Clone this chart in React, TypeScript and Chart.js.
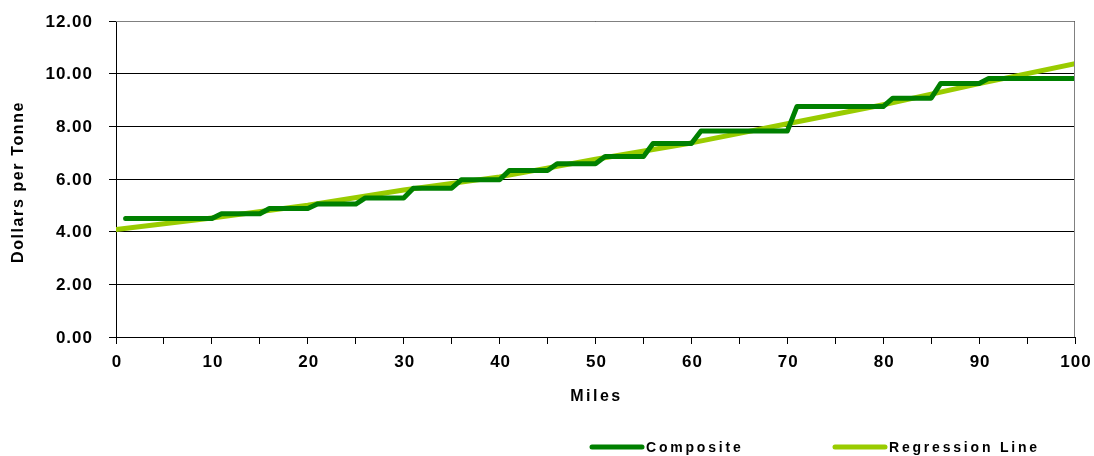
import React, { useEffect, useRef } from "react";
import { Chart, registerables } from "chart.js";

Chart.register(...registerables);

// Composite step levels: each level holds from segmentStart to segmentEnd (miles)
const segmentStart = [1, 11, 16, 21, 26, 31, 36, 41, 46, 51, 56, 61, 71, 81, 86, 91];
const segmentEnd = [10, 15, 20, 25, 30, 35, 40, 45, 50, 55, 60, 70, 80, 85, 90, 100];
const compositeLevels = [4.5, 4.68, 4.88, 5.05, 5.28, 5.65, 5.97, 6.32, 6.58, 6.85, 7.35, 7.82, 8.75, 9.07, 9.63, 9.82];

// Regression line
const regressionMiles = [0, 10, 20, 30, 40, 50, 60, 70, 80, 90, 100];
const regressionValues = [4.08, 4.52, 5.0, 5.58, 6.08, 6.75, 7.37, 8.1, 8.82, 9.62, 10.38];

const yTickValues = [0, 2, 4, 6, 8, 10, 12];
const xTickLabels = [0, 10, 20, 30, 40, 50, 60, 70, 80, 90, 100];

const yTitle = "Dollars per Tonne";
const xTitle = "Miles";
const seriesNames = ["Composite", "Regression Line"];
const colors = ["#008000", "#99CC00"];

const FONT = "'Liberation Sans', Arial, sans-serif";

export default function App() {
  const ref = useRef<HTMLCanvasElement | null>(null);
  useEffect(() => {
    const compositeData: { x: number; y: number }[] = [];
    segmentStart.forEach((s, i) => {
      compositeData.push({ x: s, y: compositeLevels[i] });
      compositeData.push({ x: segmentEnd[i], y: compositeLevels[i] });
    });
    const regressionData = regressionMiles.map((m, i) => ({ x: m, y: regressionValues[i] }));

    const decor = {
      id: "decor",
      afterDraw(chart: any) {
        const ctx = chart.ctx as CanvasRenderingContext2D;
        const a = chart.chartArea;
        const xs = chart.scales.x;
        const ys = chart.scales.y;
        ctx.save();
        // grey top/right border
        ctx.strokeStyle = "#808080";
        ctx.lineWidth = 1;
        ctx.beginPath();
        ctx.moveTo(a.left, a.top + 0.5);
        ctx.lineTo(a.right - 0.5, a.top + 0.5);
        ctx.lineTo(a.right - 0.5, a.bottom);
        ctx.stroke();
        ctx.fillStyle = "#000";

        // y tick labels
        ctx.font = `bold 17px ${FONT}`;
        (ctx as any).letterSpacing = "1px";
        ctx.textAlign = "right";
        ctx.textBaseline = "middle";
        yTickValues.forEach((v) => {
          ctx.fillText(v.toFixed(2), 93, ys.getPixelForValue(v) + 1);
        });

        // x tick labels
        ctx.font = `bold 17px ${FONT}`;
        (ctx as any).letterSpacing = "1px";
        ctx.textAlign = "center";
        xTickLabels.forEach((v) => {
          ctx.fillText(String(v), xs.getPixelForValue(v) + 1, 362);
        });

        // x title
        ctx.font = `bold 16px ${FONT}`;
        (ctx as any).letterSpacing = "2.5px";
        ctx.fillText(xTitle, (a.left + a.right) / 2 + 1, 397);

        // y title
        ctx.save();
        ctx.translate(19, 183);
        ctx.rotate(-Math.PI / 2);
        ctx.font = `bold 16px ${FONT}`;
        (ctx as any).letterSpacing = "1.6px";
        ctx.fillText(yTitle, 1, 0);
        ctx.restore();

        // legend
        const legendX = [592, 835];
        ctx.font = `bold 14px ${FONT}`;
        (ctx as any).letterSpacing = "2.8px";
        ctx.textAlign = "left";
        legendX.forEach((lx, i) => {
          ctx.strokeStyle = colors[i];
          ctx.lineWidth = 5;
          ctx.lineCap = "round";
          ctx.beginPath();
          ctx.moveTo(lx, 447);
          ctx.lineTo(lx + 50, 447);
          ctx.stroke();
          ctx.fillText(seriesNames[i], lx + 54, 448);
        });
        ctx.restore();
      },
    };

    const chart = new Chart(ref.current as HTMLCanvasElement, {
      type: "line",
      data: {
        datasets: [
          {
            label: seriesNames[0],
            data: compositeData,
            borderColor: colors[0],
            backgroundColor: colors[0],
            borderWidth: 5,
            pointRadius: 0,
            tension: 0,
            borderCapStyle: "round",
            borderJoinStyle: "round",
          },
          {
            label: seriesNames[1],
            data: regressionData,
            borderColor: colors[1],
            backgroundColor: colors[1],
            borderWidth: 5,
            pointRadius: 0,
            tension: 0,
            borderCapStyle: "round",
            borderJoinStyle: "round",
          },
        ],
      },
      options: {
        animation: false,
        responsive: false,
        maintainAspectRatio: false,
        layout: { padding: { left: 0, top: 21, right: 19, bottom: 0 } },
        plugins: { legend: { display: false }, tooltip: { enabled: false } },
        scales: {
          x: {
            type: "linear",
            min: 0,
            max: 100,
            afterFit(scale: any) {
              scale.height = 119;
            },
            ticks: { stepSize: 5, autoSkip: false, maxRotation: 0, display: false },
            grid: { drawOnChartArea: false, drawTicks: true, tickLength: 7, color: "#000" },
            border: { display: true, color: "#000", width: 1 },
          },
          y: {
            min: 0,
            max: 12,
            afterFit(scale: any) {
              scale.width = 116;
            },
            ticks: { stepSize: 2, display: false },
            grid: { color: "#000", lineWidth: 1, tickLength: 7 },
            border: { display: true, color: "#000", width: 1 },
          },
        },
      },
      plugins: [decor],
    });
    return () => chart.destroy();
  }, []);
  return (
    <div style={{ position: "fixed", left: 0, top: 0, width: 1094, height: 456, background: "#fff" }}>
      <canvas ref={ref} width={1094} height={456} style={{ width: 1094, height: 456 }} />
    </div>
  );
}
